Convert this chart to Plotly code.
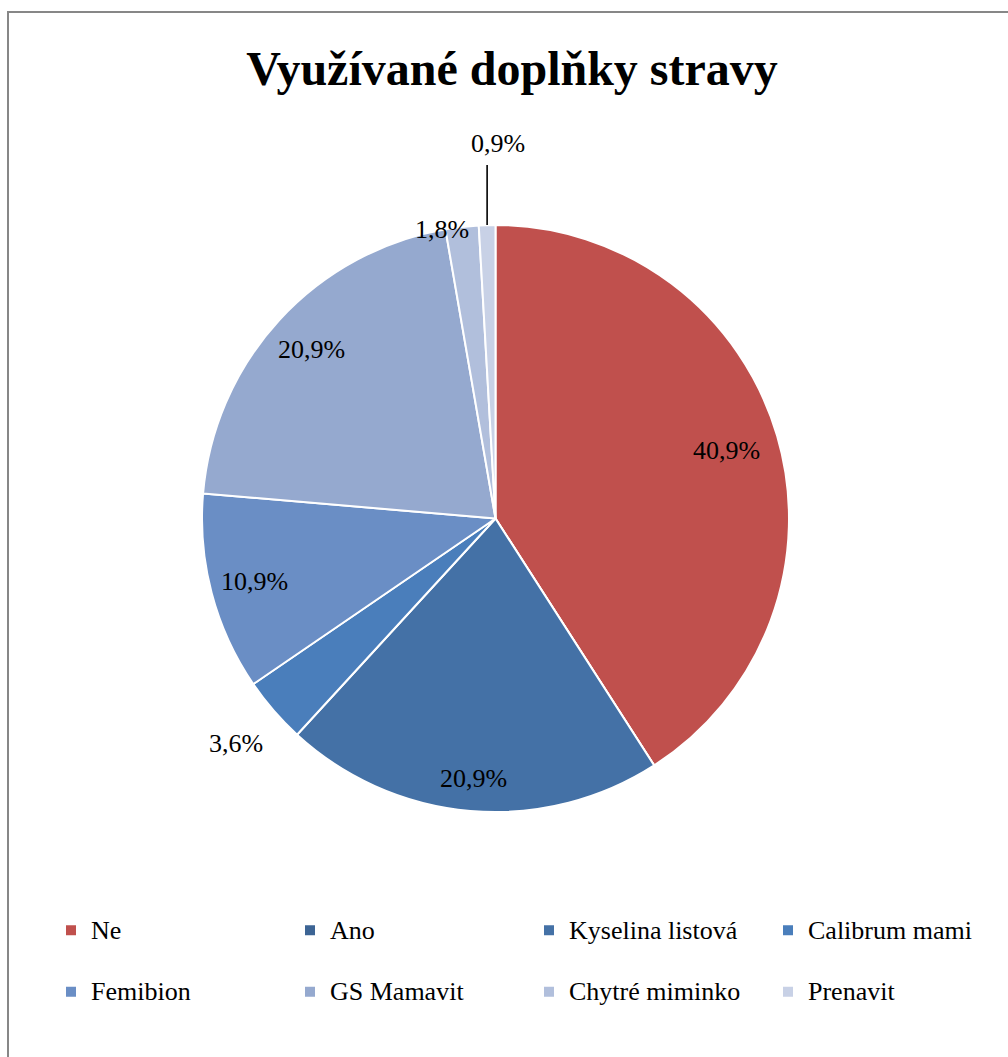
import math
import plotly.graph_objects as go

categories = ["Ne", "Ano", "Kyselina listová", "Calibrum mami", "Femibion",
              "GS Mamavit", "Chytré miminko", "Prenavit"]
counts = [45, 0, 23, 4, 12, 23, 2, 1]
colors = ["#C0504D", "#3C6494", "#4471A6", "#4A7EBB", "#6A8EC5",
          "#95A9CF", "#B1BFDC", "#C8D1E6"]
# label placement per slice (Excel "best fit" look): style and radial factor
label_style = ["in", "in", "in", "out", "in", "in", "edge", "leader"]
label_radius = [0.82, 0.85, 0.89, 1.17, 0.85, 0.85, 1.0, 1.0]

W, H = 1008, 1057
cx, cy, r = 495.5, 518.5, 293.5
FONT = "Liberation Serif"
LABEL_SIZE = 26
LEADER_LEN = 60

total = sum(counts)

def pct_text(v):
    return f"{v / total * 100:.1f}%".replace(".", ",")

annotations = []
shapes = [dict(type="rect", xref="paper", yref="paper", x0=8 / W, y0=-0.05, x1=1.05, y1=1 - 12 / H,
               line=dict(color="#878787", width=2), fillcolor="rgba(0,0,0,0)", layer="below")]
cum = 0
for v, style, f in zip(counts, label_style, label_radius):
    mid = (cum + v / 2) / total * 2 * math.pi
    cum += v
    if v <= 0:
        continue
    px = cx + f * r * math.sin(mid)
    py = cy - f * r * math.cos(mid)
    ann = dict(x=px / W, y=1 - py / H, xref="paper", yref="paper", text=pct_text(v),
               showarrow=False, xanchor="center", yanchor="middle",
               font=dict(family=FONT, size=LABEL_SIZE, color="black"))
    if style == "edge":
        ann.update(xanchor="right", xshift=9, yshift=-3)
    elif style == "leader":
        top = py - LEADER_LEN
        shapes.append(dict(type="line", xref="paper", yref="paper",
                           x0=px / W, y0=1 - py / H, x1=px / W, y1=1 - top / H,
                           line=dict(color="black", width=1.6)))
        ann.update(y=1 - (top - 22) / H, xshift=11)
    annotations.append(ann)

fig = go.Figure(go.Pie(
    labels=[f"<span style='font-size:26px'>{c}</span><br> " for c in categories],
    values=counts,
    sort=False,
    direction="clockwise",
    rotation=0,
    marker=dict(colors=colors, line=dict(color="white", width=2)),
    textinfo="none",
    domain=dict(x=[(cx - r) / W, (cx + r) / W], y=[1 - (cy + r) / H, 1 - (cy - r) / H]),
    hoverinfo="label+percent",
))

fig.update_layout(
    width=W, height=H,
    margin=dict(l=0, r=0, t=0, b=0),
    paper_bgcolor="white",
    font=dict(family=FONT, color="black"),
    title=dict(text="<b>Využívané doplňky stravy</b>", x=512 / W, xanchor="center",
               y=1 - 68 / H, yanchor="middle",
               font=dict(family=FONT, size=48, color="black")),
    legend=dict(orientation="h", x=51 / W, xanchor="left", y=1 - 909 / H, yanchor="top",
                entrywidth=194, entrywidthmode="pixels", itemwidth=30, valign="top",
                bgcolor="rgba(0,0,0,0)",
                font=dict(family=FONT, size=22.5, color="black"),
                traceorder="normal"),
    annotations=annotations,
    shapes=shapes,
)

fig.write_html("out.html")
